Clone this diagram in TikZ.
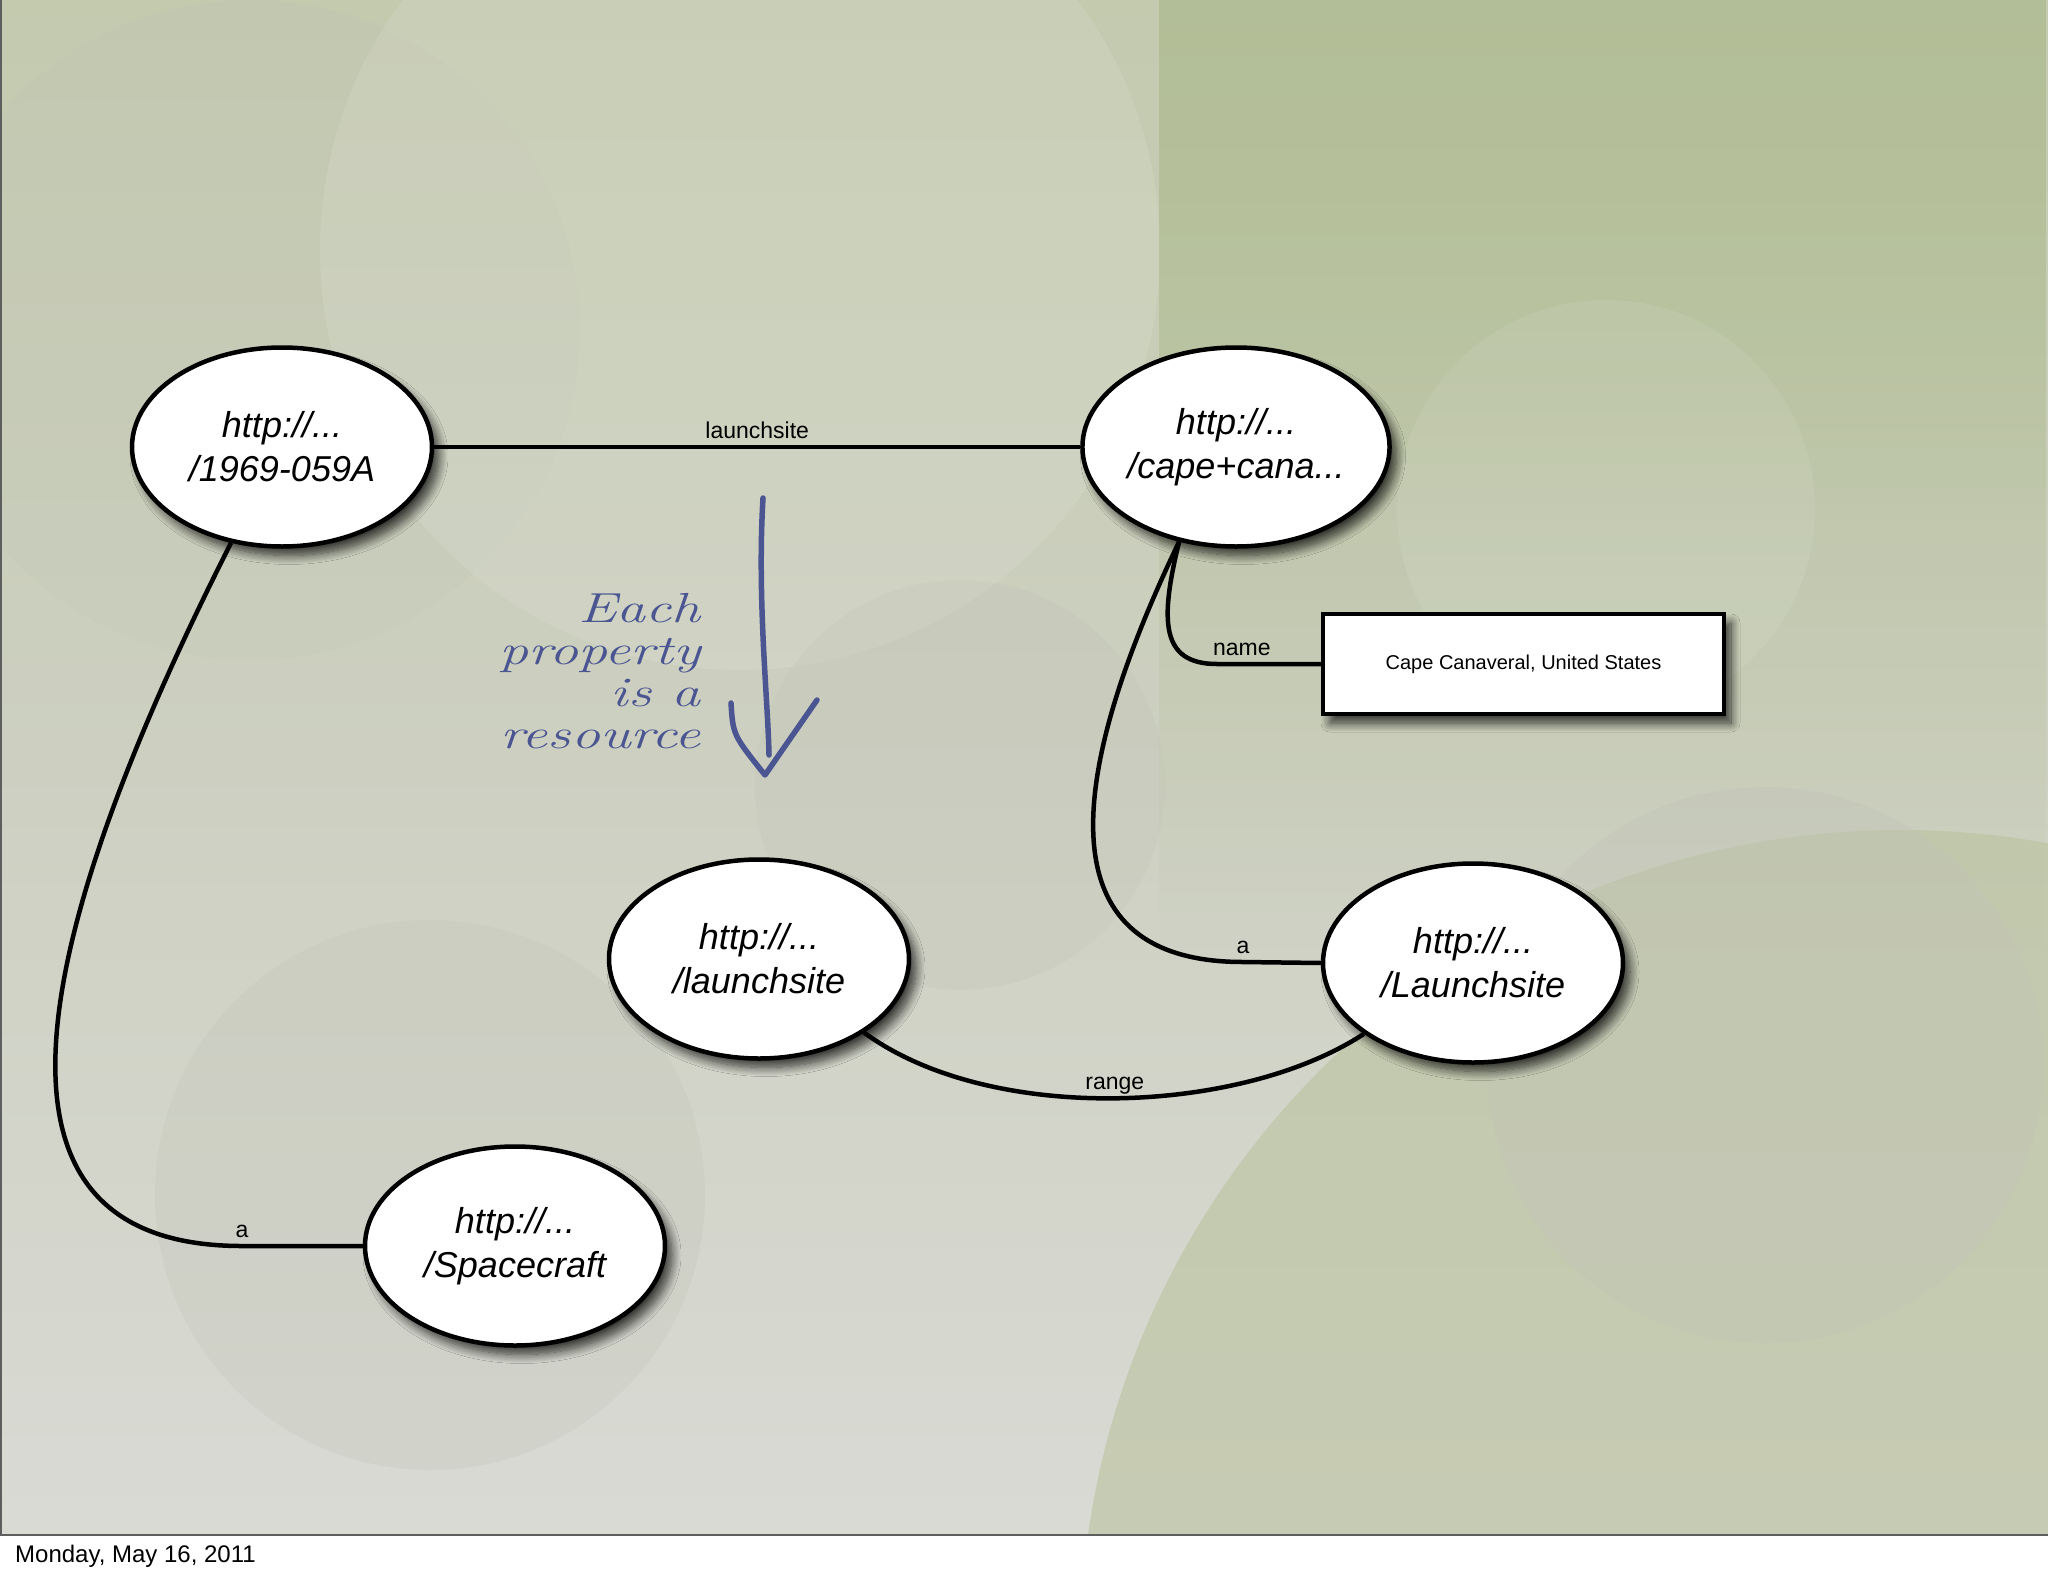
\documentclass[tikz,border=0pt]{standalone}
\usepackage{fontspec}
\newfontfamily\lib{Liberation Sans}
\usetikzlibrary{shapes.geometric,shadows.blur,fadings}
\definecolor{bgtop}{HTML}{C3CAAE}
\definecolor{bgmid}{HTML}{CDD0C1}
\definecolor{bgbot}{HTML}{D9DAD4}
\definecolor{grn}{HTML}{B2BE96}
\definecolor{grnlow}{HTML}{BAC39E}
\definecolor{graycirc}{HTML}{C2C4B8}
\definecolor{inkblue}{HTML}{4A5592}
\definecolor{frame}{HTML}{5E5E5E}
\tikzset{
  res/.style={ellipse, draw=black, line width=4.5pt, fill=white, inner sep=0pt,
    minimum width=300pt, minimum height=199pt, align=center,
    font=\lib\itshape\fontsize{36}{44}\selectfont,
    blur shadow={shadow xshift=7pt, shadow yshift=-9pt, shadow blur radius=9pt,
      shadow blur steps=12, shadow opacity=75}},
  litbox/.style={rectangle, draw=black, line width=4.5pt, fill=white, inner sep=0pt,
    minimum width=401pt, minimum height=100pt,
    font=\lib\fontsize{20}{24}\selectfont,
    blur shadow={shadow xshift=7pt, shadow yshift=-9pt, shadow blur radius=9pt,
      shadow blur steps=12, shadow opacity=75}},
  edge/.style={draw=black, line width=4.5pt},
  lbl/.style={font=\lib\fontsize{23}{26}\selectfont, anchor=base, yshift=9pt, inner sep=0pt},
  hand/.style={draw=inkblue, line width=5.5pt, line cap=round, line join=round}
}
\begin{document}
\begin{tikzpicture}[x=1pt,y=-1pt]
\useasboundingbox (0,0) rectangle (2048,1576);
\fill[white] (0,0) rectangle (2048,1576);
% slide background
\fill[top color=bgtop, bottom color=bgbot, middle color=bgmid] (0,0) rectangle (2048,1535);
\begin{scope}
  \clip (0,0) rectangle (2048,1535);
  \fill[graycirc, opacity=.18] (250,330) circle (330);
  \fill[white, opacity=.10] (740,250) circle (420);
  \fill[grn, path fading=south, opacity=.8] (1160,0) rectangle (2048,950);
  \fill[grn, path fading=south, opacity=.7] (1160,0) rectangle (2048,520);
  \fill[white, opacity=.08] (1606,509) circle (209);
  \fill[grnlow, opacity=.6] (1900,1650) circle (820);
  \fill[graycirc, opacity=.40] (1765,1065) circle (278);
  \fill[graycirc, opacity=.28] (960,785) circle (205);
  \fill[graycirc, opacity=.28] (430,1195) circle (275);
\end{scope}
\draw[frame, line width=2pt] (1,0) -- (1,1535) -- (2048,1535);

% nodes
\node[res] (A) at (282,447) {http://...\\/1969-059A};
\node[res] (B) at (1236,447) {http://...\\/cape+cana...};
\node[res] (C) at (759,959) {http://...\\/launchsite};
\node[res] (D) at (1473,963) {http://...\\/Launchsite};
\node[res] (E) at (515,1246) {http://...\\/Spacecraft};
\node[litbox] (R) at (1523.5,664) {Cape Canaveral, United States};

% connectors
\draw[edge] (A.east) -- node[lbl]{launchsite} (B.west);
\draw[edge] (A.242) .. controls (10,980) and (-20,1246) .. (242,1246)
  -- node[lbl, pos=0]{a} (E.west);
\draw[edge] (B.239) .. controls (1160,620) and (1160,664) .. (1217,664)
  -- node[lbl, pos=0.24]{name} (R.west);
\draw[edge] (B.239) .. controls (1060,790) and (1050,962) .. (1243,962)
  -- node[lbl, pos=0]{a} (D.west);
\draw[edge] (C.325) .. controls (990,1125) and (1240,1115) .. node[lbl, pos=0.5]{range} (D.213);

% handwritten note
\node[anchor=base east, align=right, text=inkblue, xscale=1.38, inner sep=0pt,
  font=\itshape\fontsize{42}{42}\selectfont] (note) at (701,748)
  {Each\\property\\is a\\resource};
\coordinate (arTop) at (763,498);
\coordinate (arEnd) at (769,755);
\coordinate (arL) at (731,703);
\coordinate (arTip) at (765,775);
\coordinate (arR) at (817,700);
\draw[hand] (arTop) .. controls (757,600) and (768,700) .. (arEnd);
\draw[hand] (arL) .. controls (733,735) .. (arTip) -- (arR);

% date
\node[anchor=base west, inner sep=0pt, font=\lib\fontsize{24}{28}\selectfont] (date) at (15,1562)
  {Monday, May 16, 2011};
\end{tikzpicture}
\end{document}
